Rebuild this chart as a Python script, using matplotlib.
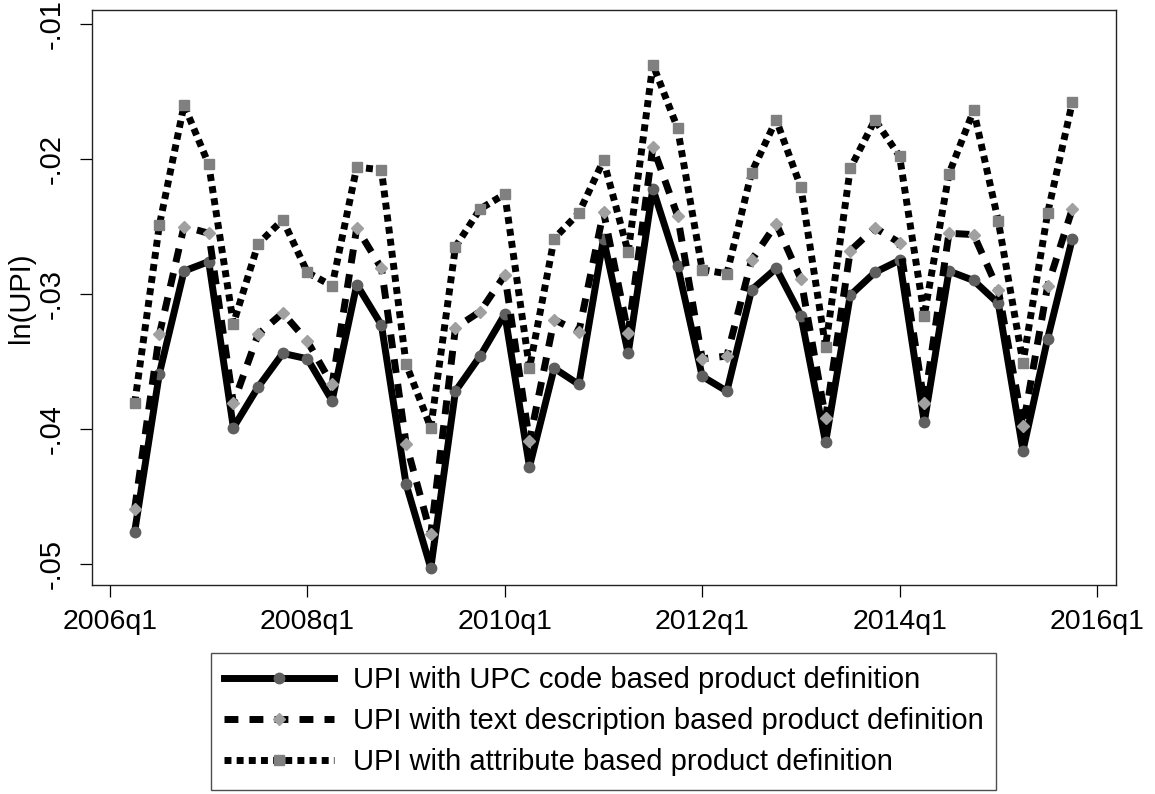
import matplotlib
matplotlib.use("Agg")
import matplotlib.pyplot as plt
import numpy as np

# ----------------------------
# Data, quarterly 2006q2 .. 2015q4
# ----------------------------
quarters = np.arange(1, 40)          # 2006q1 = 0  ->  2006q2 .. 2015q4

upi_upc = [-0.0476, -0.0359, -0.0283, -0.0276, -0.0399, -0.0369, -0.0344, -0.0348,
           -0.0379, -0.0293, -0.0323, -0.0441, -0.0503, -0.0372, -0.0346, -0.0315,
           -0.0428, -0.0355, -0.0367, -0.0259, -0.0344, -0.0222, -0.0279, -0.0361,
           -0.0372, -0.0297, -0.0281, -0.0316, -0.0410, -0.0301, -0.0284, -0.0275,
           -0.0395, -0.0283, -0.0290, -0.0307, -0.0416, -0.0333, -0.0259]

upi_text = [-0.0459, -0.0330, -0.0250, -0.0255, -0.0381, -0.0330, -0.0314, -0.0335,
            -0.0367, -0.0251, -0.0281, -0.0411, -0.0478, -0.0325, -0.0313, -0.0286,
            -0.0409, -0.0319, -0.0328, -0.0239, -0.0329, -0.0191, -0.0242, -0.0348,
            -0.0346, -0.0275, -0.0248, -0.0289, -0.0392, -0.0268, -0.0251, -0.0262,
            -0.0381, -0.0255, -0.0256, -0.0297, -0.0398, -0.0294, -0.0237]

upi_attr = [-0.0381, -0.0249, -0.0160, -0.0204, -0.0322, -0.0263, -0.0245, -0.0284,
            -0.0294, -0.0206, -0.0208, -0.0352, -0.0399, -0.0265, -0.0237, -0.0226,
            -0.0355, -0.0259, -0.0240, -0.0201, -0.0269, -0.0130, -0.0177, -0.0282,
            -0.0285, -0.0210, -0.0171, -0.0221, -0.0339, -0.0207, -0.0171, -0.0198,
            -0.0316, -0.0211, -0.0164, -0.0246, -0.0351, -0.0240, -0.0158]

labels = ["UPI with UPC code based product definition",
          "UPI with text description based product definition",
          "UPI with attribute based product definition"]

xtick_pos = [0, 8, 16, 24, 32, 40]
xtick_labels = ["2006q1", "2008q1", "2010q1", "2012q1", "2014q1", "2016q1"]
ytick_pos = [-0.01, -0.02, -0.03, -0.04, -0.05]
ytick_labels = ["-.01", "-.02", "-.03", "-.04", "-.05"]

# ----------------------------
# Figure
# ----------------------------
plt.rcParams["font.family"] = ["Liberation Sans", "DejaVu Sans"]
FS = 21

fig = plt.figure(figsize=(11.55, 7.94), dpi=100)
ax = fig.add_axes([92 / 1155, 1 - 585 / 794, (1116 - 92) / 1155, (585 - 10) / 794])

LW = 5
ax.plot(quarters, upi_upc, color="black", lw=LW, linestyle="-",
        marker="o", markersize=7.5, markerfacecolor="#5f5f5f",
        markeredgecolor="#5f5f5f", label=labels[0])
ax.plot(quarters, upi_text, color="black", lw=LW, linestyle=(0, (2.0, 1.6)),
        marker="D", markersize=6.5, markerfacecolor="#a0a0a0",
        markeredgecolor="#a0a0a0", label=labels[1])
ax.plot(quarters, upi_attr, color="black", lw=LW, linestyle=(0, (1.0, 0.75)),
        marker="s", markersize=7, markerfacecolor="#808080",
        markeredgecolor="#808080", label=labels[2])

ax.set_xlim(-0.73, 40.77)
ax.set_ylim(-0.05156, -0.00896)

ax.set_xticks(xtick_pos)
ax.set_xticklabels(xtick_labels, fontsize=20.5)
ax.set_yticks(ytick_pos)
ax.set_yticklabels(ytick_labels, fontsize=FS, rotation=90, va="center")

ax.tick_params(axis="both", direction="out", length=8.6, width=0.9, color="black")
ax.tick_params(axis="x", pad=9)
ax.tick_params(axis="y", pad=10)

for sp in ax.spines.values():
    sp.set_linewidth(1.0)
    sp.set_color("#222222")

ax.set_ylabel("ln(UPI)", fontsize=FS)
ax.yaxis.set_label_coords(-0.0555, 0.5)

leg = ax.legend(loc="upper center", bbox_to_anchor=(603.5 / 1155, 1 - 653 / 794),
                bbox_transform=fig.transFigure, fontsize=FS, frameon=True,
                fancybox=False, shadow=False, numpoints=1, handlelength=3.77,
                handletextpad=0.65, labelspacing=0.45, borderpad=0.45,
                borderaxespad=0)
leg.get_frame().set_edgecolor("#222222")
leg.get_frame().set_linewidth(1.0)

fig.savefig("out.png", dpi=100)
